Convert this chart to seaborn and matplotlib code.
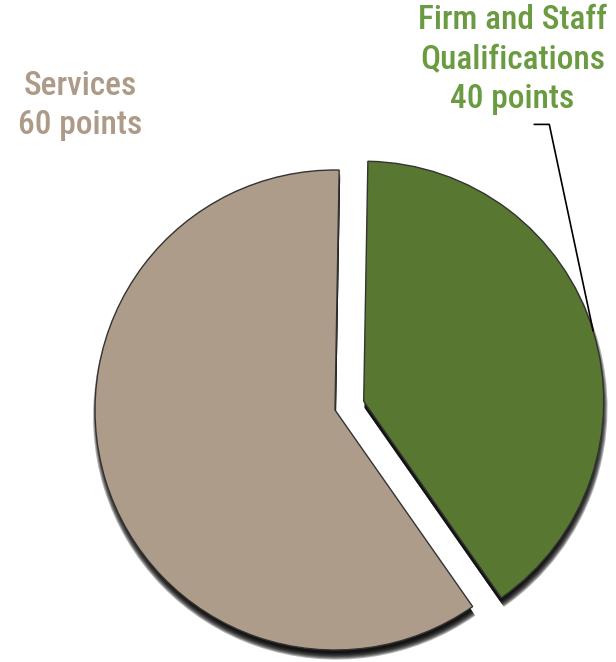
import numpy as np
import matplotlib
matplotlib.use('Agg')
import matplotlib.pyplot as plt
import seaborn as sns

# Scoring breakdown (clockwise from the top)
labels = ['Firm and Staff\nQualifications', 'Services']
points = [40, 60]
slice_colors = ['#587731', '#AE9C8B']
text_colors = ['#6A9B40', '#AE9A88']
explode = [0.125, 0.0]

sns.set_theme(style='white')
plt.rcParams['font.family'] = ['Roboto Condensed', 'DejaVu Sans']

fig = plt.figure(figsize=(6.16, 6.62), dpi=100)
ax = fig.add_axes([0, 0, 1, 1])

# soft drop shadow: a few stacked translucent black pies
for d in np.linspace(-0.015, 0.012, 7):
    ax.pie(points, explode=explode, startangle=89, counterclock=False,
           colors=['black', 'black'], radius=1 + d, center=(0.004, -0.028),
           wedgeprops=dict(linewidth=0, alpha=0.3))

wedges, _ = ax.pie(points, explode=explode, startangle=89, counterclock=False,
                   colors=slice_colors,
                   wedgeprops=dict(edgecolor='#333333', linewidth=1.0))

# labels
ax.text(0.74, 1.69, f'{labels[0]}\n{points[0]} points', ha='center', va='top',
        fontsize=24, fontweight=500, color=text_colors[0], linespacing=1.3)
ax.text(-1.06, 1.415, f'{labels[1]}\n{points[1]} points', ha='center', va='top',
        fontsize=24, fontweight=500, color=text_colors[1], linespacing=1.25)

# leader line to the middle of the green slice's arc
w = wedges[0]
mid = np.deg2rad((w.theta1 + w.theta2) / 2)
tip = (w.center[0] + w.r * np.cos(mid), w.center[1] + w.r * np.sin(mid))
ax.annotate('', xy=tip, xytext=(0.83, 1.19),
            arrowprops=dict(arrowstyle='-', color='black', lw=1.2,
                            connectionstyle='angle,angleA=0,angleB=102,rad=0',
                            shrinkA=0, shrinkB=0))

ax.set_xlim(-335 / 240, (616 - 335) / 240)
ax.set_ylim(-(662 - 410) / 240, 410 / 240)
ax.set_aspect('equal')
ax.set_axis_off()

fig.savefig('out.png', dpi=100, facecolor='white')
